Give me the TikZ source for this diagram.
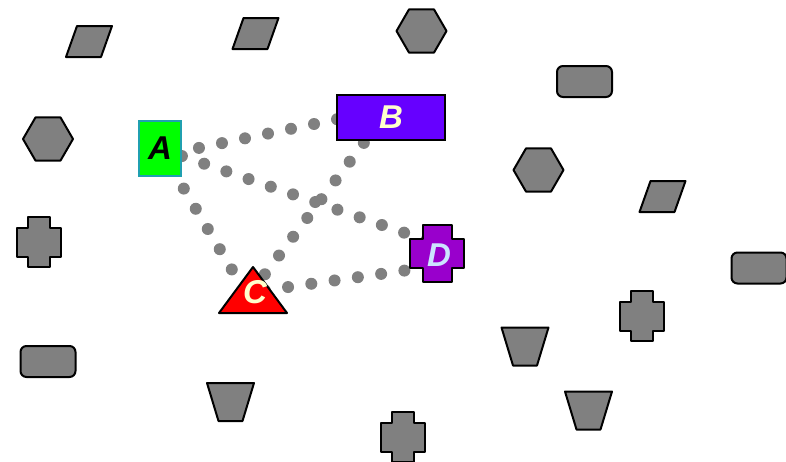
\documentclass[tikz,border=0pt]{standalone}
\usepackage{fontspec}
\setmainfont{Liberation Sans}
\usetikzlibrary{backgrounds, calc}
\definecolor{shapegray}{RGB}{128,128,128}
\definecolor{nodegreen}{RGB}{0,255,0}
\definecolor{tealedge}{RGB}{32,160,176}
\definecolor{nodeviolet}{RGB}{102,0,255}
\definecolor{nodepurple}{RGB}{153,0,204}
\definecolor{cream}{RGB}{255,255,204}
\definecolor{paleblue}{RGB}{204,228,255}
\newcommand*{\biglabel}{\fontsize{33}{33}\selectfont\bfseries\itshape}

\begin{document}
\begin{tikzpicture}[
      x=1pt, y=-1pt,
      every node/.style={font=\biglabel, inner sep=0pt},
      blob/.style={fill=shapegray, draw=black, line width=2pt, line join=round},
      link/.style={draw=shapegray, line width=12pt, line cap=round, dash pattern=on 0pt off 23.5pt},
      pics/hexa/.style={code={\path[blob] (-25,0) -- (-12.5,-21.6) -- (12.5,-21.6) -- (25,0) -- (12.5,21.6) -- (-12.5,21.6) -- cycle;}},
      pics/slab/.style={code={\path[blob] (-12,-15.5) -- (23,-15.5) -- (12,15.5) -- (-23,15.5) -- cycle;}},
      pics/bucket/.style={code={\path[blob] (-23.5,-19) -- (23.5,-19) -- (12,19) -- (-12,19) -- cycle;}},
      pics/pill/.style={code={\path[blob, rounded corners=6pt] (-27.5,-15.5) rectangle (27.5,15.5);}},
      pics/peak/.style={code={\path[blob] (0,-23) -- (34,23) -- (-34,23) -- cycle;}},
      pics/plus/.style n args={4}{code={\path[blob] (-#3/2,-#2/2) -- (#3/2,-#2/2) -- (#3/2,-#4/2) -- (#1/2,-#4/2)
          -- (#1/2,#4/2) -- (#3/2,#4/2) -- (#3/2,#2/2) -- (-#3/2,#2/2) -- (-#3/2,#4/2) -- (-#1/2,#4/2)
          -- (-#1/2,-#4/2) -- (-#3/2,-#4/2) -- cycle;}}
      ]

      \useasboundingbox (0,0) rectangle (786,461);

      % scattered grey shapes
      \pic (s_1) at (89,41.5) {slab};
      \pic (s_2) at (255.5,33.5) {slab};
      \pic (s_3) at (662.5,196.5) {slab};
      \pic (h_1) at (48,139) {hexa};
      \pic (h_2) at (421.5,31) {hexa};
      \pic (h_3) at (538.5,170) {hexa};
      \pic (r_1) at (584.5,81.5) {pill};
      \pic (r_2) at (759,268) {pill};
      \pic (r_3) at (48,361.5) {pill};
      \pic (t_1) at (230.5,402) {bucket};
      \pic (t_2) at (525,346.5) {bucket};
      \pic (t_3) at (588.5,410.5) {bucket};
      \pic (p_1) at (39,242) {plus={44}{50}{22}{29}};
      \pic (p_2) at (642,316) {plus={44}{50}{22}{29}};
      \pic (p_3) at (403,437) {plus={44}{50}{22}{29}};

      % labelled nodes
      \node[draw=tealedge, fill=nodegreen, line width=2pt, minimum width=42pt, minimum height=55pt] (A) at (160,148.5) {A};
      \node[draw=black, fill=nodeviolet, line width=2pt, minimum width=108pt, minimum height=45pt, text=cream] (B) at (391,117.5) {B};
      \pic[blob/.append style={fill=red}] (c_shape) at (253,290) {peak};
      \node[text=cream] (C) at (255,292) {C};
      \pic[blob/.append style={fill=nodepurple}] (d_shape) at (437,253) {plus={54}{57}{29}{29}};
      \node[text=paleblue] (D) at (439,255) {D};

      \begin{scope}[on background layer]
        \path[link, dash phase=7.2pt]  ($(A)+(0,7.5)$) -- ($(B)+(0,-9.5)$);
        \path[link, dash phase=0.4pt]  (A.center) -- ($(C)+(-11,-2)$);
        \path[link, dash phase=0.3pt]  (A.center) -- ($(D)+(-2,-11)$);
        \path[link, dash phase=15.2pt] ($(B)+(-8,0)$) -- ($(C)+(-2,-2)$);
        \path[link, dash phase=11.6pt] ($(C)+(-2,0)$) -- ($(D)+(-2,11)$);
      \end{scope}
    \end{tikzpicture}
\end{document}
